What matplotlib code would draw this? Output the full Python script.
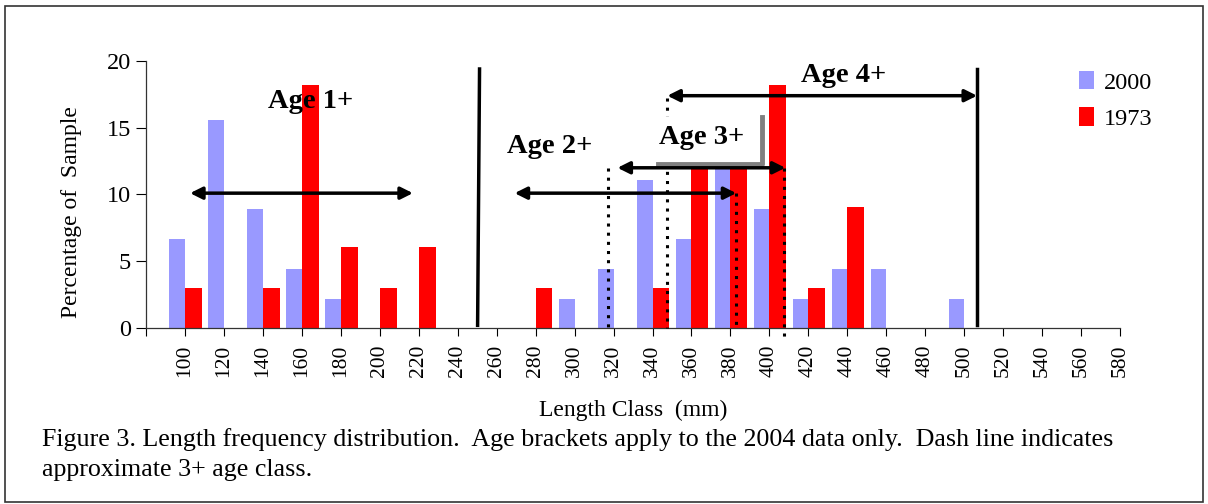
import matplotlib.pyplot as plt
import numpy as np
from matplotlib.patches import Rectangle

plt.rcParams['font.family'] = ['Liberation Serif', 'DejaVu Serif']

# length classes (mm)
classes = [100, 120, 140, 160, 180, 200, 220, 240, 260, 280, 300, 320, 340,
           360, 380, 400, 420, 440, 460, 480, 500, 520, 540, 560, 580]
pct_2000 = [6.7, 15.6, 8.9, 4.4, 2.2, 0, 0, 0, 0, 0, 2.2, 4.4, 11.1,
            6.7, 12.4, 8.9, 2.2, 4.4, 4.4, 0, 2.2, 0, 0, 0, 0]
pct_1973 = [3.0, 0, 3.0, 18.2, 6.1, 3.0, 6.1, 0, 0, 3.0, 0, 0, 3.0,
            12.1, 12.1, 18.2, 3.0, 9.1, 0, 0, 0, 0, 0, 0, 0]

fig = plt.figure(figsize=(12.08, 5.04), dpi=100)
ax = fig.add_axes([0.1209, 0.3492, 0.8063, 0.5298])

x = np.arange(len(classes))
ax.bar(x - 0.2, pct_2000, width=0.40, color='#9999FF', label='2000', zorder=2)
ax.bar(x + 0.215, pct_1973, width=0.43, color='#FF0000', label='1973', zorder=2)

ax.set_xlim(-1, 24)
ax.set_ylim(0, 20)
ax.set_yticks([0, 5, 10, 15, 20])
ax.set_xticks(np.arange(-1, 25))
ax.set_xticklabels([''] + [str(c) for c in classes], rotation=90, fontsize=15.5)
ax.tick_params(axis='y', labelsize=17.5, direction='out', length=7, width=0.8, pad=4)
ax.tick_params(axis='x', direction='out', length=6, width=0.8, pad=6)
for s in ['top', 'right']:
    ax.spines[s].set_visible(False)
for s in ['left', 'bottom']:
    ax.spines[s].set_linewidth(0.9)
    ax.spines[s].set_color('#333333')
ax.set_ylabel('Percentage of  Sample', fontsize=17)
ax.yaxis.set_label_coords(-0.066, 0.434)
ax.set_xlabel('Length Class  (mm)', fontsize=17, labelpad=16)

arrow = dict(arrowstyle='<|-|>', color='black', lw=2.5, mutation_scale=18,
             shrinkA=0, shrinkB=0)
dots = dict(color='black', linestyle=(0, (1, 2)), lw=2.2, clip_on=False, zorder=4)
lab = dict(fontsize=20.5, fontweight='bold', ha='center', va='center', zorder=6)

# Age 1+
ax.annotate('', xy=(0.13, 10.1), xytext=(5.85, 10.1), arrowprops=arrow, zorder=5)
ax.text(3.22, 17.0, 'Age 1+', **lab)
ax.plot([7.56, 7.51], [19.4, 0.2], color='black', lw=2.5, zorder=5)

# Age 2+
ax.annotate('', xy=(8.46, 10.1), xytext=(14.15, 10.1), arrowprops=arrow, zorder=5)
ax.text(9.36, 13.6, 'Age 2+', **lab)
ax.plot([10.85, 10.85], [12.0, 0], **dots)
ax.plot([14.15, 14.15], [10.1, 0], **dots)

# Age 3+
ax.add_patch(Rectangle((12.13, 12.3), 2.69, 3.5, facecolor='white',
                       edgecolor='none', zorder=5))
ax.plot([12.13, 14.82, 14.82], [12.3, 12.3, 15.8], color='#808080', lw=3.5, zorder=5)
ax.text(13.27, 14.3, 'Age 3+', **lab)
ax.annotate('', xy=(11.1, 12.0), xytext=(15.41, 12.0), arrowprops=arrow, zorder=6)
ax.plot([12.36, 12.36], [17.2, 0], **dots)
ax.plot([15.38, 15.38], [12.0, -0.8], **dots)

# Age 4+
ax.annotate('', xy=(12.38, 17.4), xytext=(20.33, 17.4), arrowprops=arrow, zorder=5)
ax.text(16.9, 18.9, 'Age 4+', **lab)
ax.plot([20.33, 20.33], [19.4, 0.2], color='black', lw=2.5, zorder=5)

leg = ax.legend(loc='upper right', bbox_to_anchor=(1.056, 1.045), frameon=False,
                fontsize=17.5, handlelength=0.65, handleheight=0.8, handletextpad=0.4,
                labelspacing=0.55)

fig.text(0.035, 0.127, 'Figure 3. Length frequency distribution.  Age brackets apply to the 2004 data only.  Dash line indicates',
         fontsize=18.7, va='center')
fig.text(0.035, 0.067, 'approximate 3+ age class.', fontsize=18.7, va='center')

fig.patches.append(Rectangle((0.004, 0.004), 0.992, 0.985, transform=fig.transFigure,
                             fill=False, edgecolor='#333333', lw=1.2))

fig.savefig('out.png', dpi=100)
